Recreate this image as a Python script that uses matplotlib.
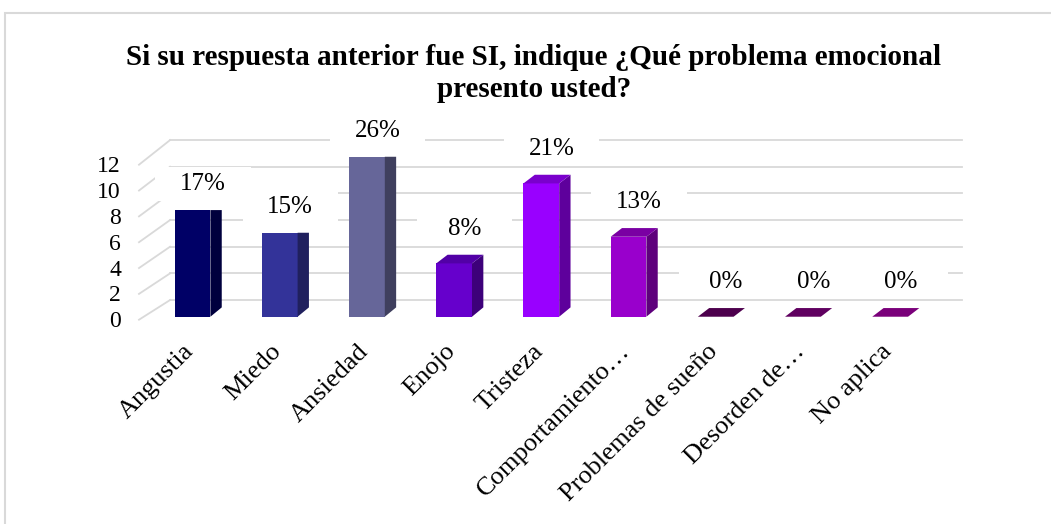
import numpy as np
import matplotlib.pyplot as plt
from matplotlib.patches import Polygon, Rectangle

# datos
categorias = ["Angustia", "Miedo", "Ansiedad", "Enojo", "Tristeza",
              "Comportamiento…", "Problemas de sueño", "Desorden de…", "No aplica"]
valores = [8, 6.3, 12, 4, 10, 6, 0, 0, 0]
etiquetas = ["17%", "15%", "26%", "8%", "21%", "13%", "0%", "0%", "0%"]
marcas_y = [0, 2, 4, 6, 8, 10, 12]
titulo = "Si su respuesta anterior fue SI, indique ¿Qué problema emocional\npresento usted?"

# colores (frente, lado, techo)
col_frente = ["#000066", "#333399", "#666699", "#6600cc", "#9900ff", "#9900cc",
              "#4d004d", "#600060", "#7a007a"]
col_lado = ["#00003d", "#20205e", "#3f3f5e", "#3d007a", "#5e009c", "#5e007c",
            "#3a003a", "#4a004a", "#5e005e"]
col_techo = ["#000055", "#2a2a80", "#55557f", "#5200a6", "#7a00cc", "#7a00a3",
             "#4d004d", "#600060", "#7a007a"]
tapa_visible = [False, False, False, True, True, True, True, True, True]

plt.rcParams['font.family'] = ['Liberation Serif', 'DejaVu Serif']

fig = plt.figure(figsize=(10.51, 5.24), dpi=100)
ax = fig.add_axes([0, 0, 1, 1])
ax.set_xlim(-2.208, 9.845)
ax.set_ylim(-15.55, 23.76)
ax.axis('off')

# marco exterior
fig.patches.append(Rectangle((5 / 1051, -0.05), 2, (1 - 13 / 524) + 0.05,
                             transform=fig.transFigure, fill=False,
                             edgecolor='#d9d9d9', lw=1.5))

GRIS = '#d9d9d9'
x_pared = -0.258
x_fin = 8.82
x_lado = -0.614
ANCHO = 0.41
DX = 0.13
DY = 0.7
TAPA = 0.65

# paredes y lineas de cuadricula
for v in marcas_y:
    y_front = -0.375 + 0.969 * v
    ax.plot([x_lado, x_pared], [y_front + 0.15, v + 1.25], color=GRIS, lw=1.3, zorder=1)
    ax.plot([x_pared, x_fin], [v + 1.25, v + 1.25], color=GRIS, lw=1.3, zorder=1)
    ax.text(-0.82, y_front, str(v), ha='right', va='center', fontsize=17, zorder=4)

# barras
for i, h in enumerate(valores):
    x0 = i - ANCHO / 2
    x1 = i + ANCHO / 2
    rise = TAPA if tapa_visible[i] else 0
    if h > 0:
        ax.add_patch(Rectangle((x0, 0), ANCHO, h, facecolor=col_frente[i],
                               edgecolor='none', zorder=3))
        ax.add_patch(Polygon([(x1, 0), (x1 + DX, DY), (x1 + DX, h + rise), (x1, h)],
                             closed=True, facecolor=col_lado[i], edgecolor='none', zorder=3))
    if rise > 0:
        ax.add_patch(Polygon([(x0, h), (x1, h), (x1 + DX, h + rise), (x0 + DX, h + rise)],
                             closed=True, facecolor=col_techo[i], edgecolor='none', zorder=3))

    # etiqueta de datos con fondo blanco
    lx = i + 0.12
    ly = h + rise + 1.95
    ax.add_patch(Rectangle((lx - 0.545, ly - 1.27), 1.09, 2.55, facecolor='white',
                           edgecolor='none', zorder=2))
    ax.text(lx, ly, etiquetas[i], ha='center', va='center', fontsize=18, zorder=4)

    # categoria rotada
    ax.text(i - 0.11, -1.75, categorias[i], rotation=45, rotation_mode='anchor',
            ha='right', va='top', fontsize=19, zorder=4)

fig.text(534 / 1051, 1 - 73.5 / 524, titulo, ha='center', va='center',
         fontsize=21, fontweight='bold', linespacing=1.25)

fig.savefig("out.png", dpi=100)
